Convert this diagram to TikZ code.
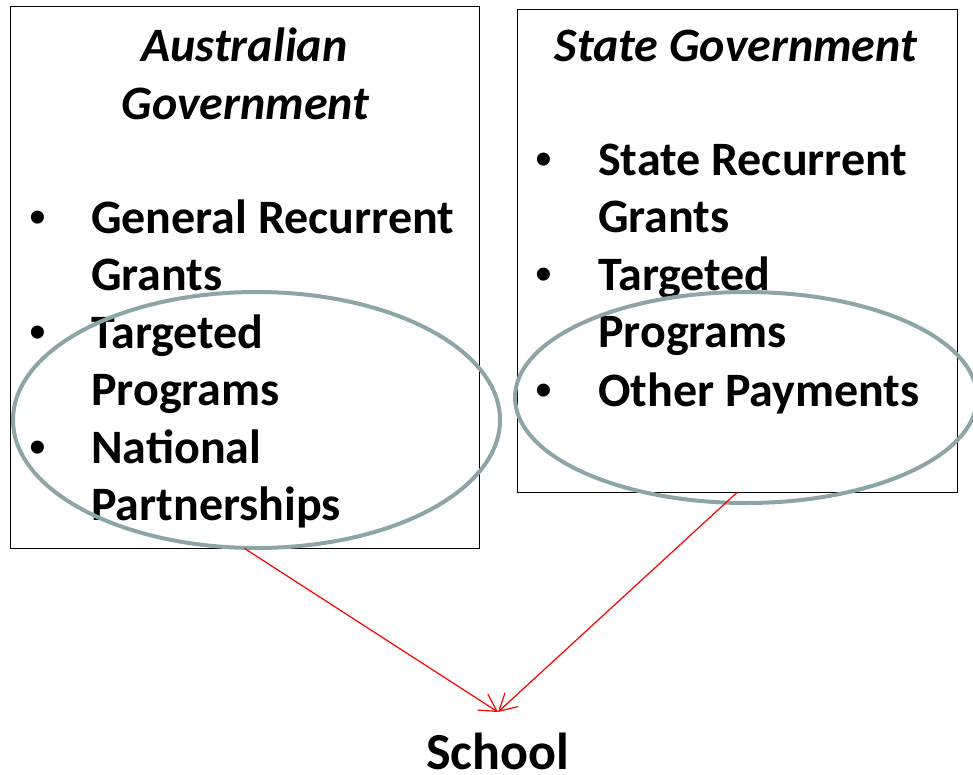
\documentclass[tikz,border=0pt]{standalone}
\usepackage{fontspec}
\setmainfont{Carlito}
\newfontfamily\bulletfont{Liberation Sans}
\usetikzlibrary{arrows.meta, shapes.geometric}

\definecolor{ringgrey}{HTML}{8CA5A6}

\begin{document}
\begin{tikzpicture}[x=1pt, y=-1pt, >={Straight Barb[length=17pt, width=19pt]},
  govbox/.style={draw, line width=0.9pt, inner sep=0pt},
  ring/.style={ellipse, draw=ringgrey, line width=4pt, inner sep=0pt},
  head/.style={anchor=base, inner sep=0pt, font=\fontsize{48}{57.5}\selectfont\bfseries\itshape},
  item/.style={anchor=base west, inner sep=0pt, font=\fontsize{48}{57.5}\selectfont\bfseries},
  dot/.style={anchor=base, inner sep=0pt, font=\bulletfont\fontsize{48}{57.5}\selectfont},
  flow/.style={->, red, line width=1.2pt}]
  \useasboundingbox (0,0) rectangle (973,774);

  % the two funding bodies
  \node [govbox, minimum width=469pt, minimum height=542pt] (ag) at (244.5,277) {};
  \node [govbox, minimum width=440pt, minimum height=483pt] (sg) at (737,250.5) {};

  \node [head] (aghead1) at (244.5,61) {Australian};
  \node [head] (aghead2) at (245.5,119) {Government};
  \node [head] (sghead) at (736,61) {State Government};

  % federal items
  \node [dot] (agdot1) at (38,233) {•};
  \node [item] (agitem1) at (91,233) {General Recurrent};
  \node [item] (agitem1b) at (91,290.5) {Grants};
  \node [dot] (agdot2) at (38,348) {•};
  \node [item] (agitem2) at (91,348) {Targeted};
  \node [item] (agitem2b) at (91,405.5) {Programs};
  \node [dot] (agdot3) at (38,463) {•};
  \node [item] (agitem3) at (91,463) {National};
  \node [item] (agitem3b) at (91,520.5) {Partnerships};

  % state items
  \node [dot] (sgdot1) at (544,175) {•};
  \node [item] (sgitem1) at (598,175) {State Recurrent};
  \node [item] (sgitem1b) at (598,232.5) {Grants};
  \node [dot] (sgdot2) at (544,290) {•};
  \node [item] (sgitem2) at (598,290) {Targeted};
  \node [item] (sgitem2b) at (598,347.5) {Programs};
  \node [dot] (sgdot3) at (544,406) {•};
  \node [item] (sgitem3) at (598,406) {Other Payments};

  % circled payments
  \node [ring, minimum width=487pt, minimum height=256pt] (agring) at (256.5,420) {};
  \node [ring, minimum width=462pt, minimum height=211pt] (sgring) at (746,397.5) {};

  \node [anchor=base, inner sep=0pt, font=\fontsize{52}{60}\selectfont\bfseries] (school) at (497.5,769) {School};
  \coordinate (drop) at (498,712);

  \draw [flow] (ag.south) -- (drop);
  \draw [flow] (sg.south) -- (drop);
\end{tikzpicture}
\end{document}
